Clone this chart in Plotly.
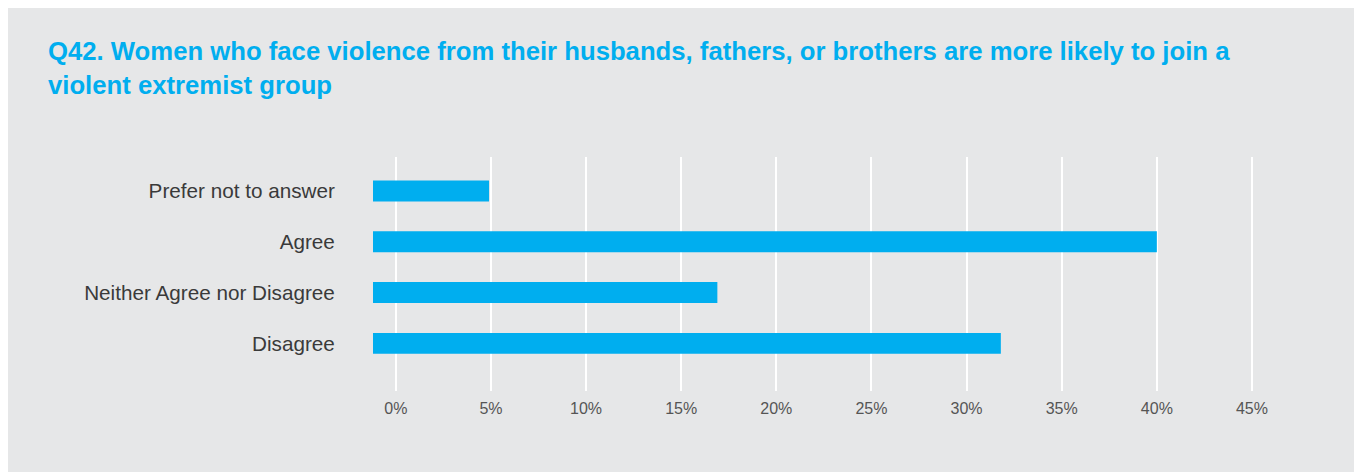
import plotly.graph_objects as go

categories = ["Disagree", "Neither Agree nor Disagree", "Agree", "Prefer not to answer"]
values = [31.8, 16.9, 40.0, 4.9]
tick_values = [0, 5, 10, 15, 20, 25, 30, 35, 40, 45]
tick_labels = [f"{v}%" for v in tick_values]
title_lines = [
    "Q42. Women who face violence from their husbands, fathers, or brothers are more likely to join a",
    "violent extremist group",
]

# page has an 8px body margin, so figure pixel coords = screenshot coords - 8
OFF = 8
W, H = 1362, 472
L = 373 - OFF
T = 157 - OFF
R = W - (1271 - OFF)
B = H - (391 - OFF)
X_MIN, X_MAX = -1.2, 46.0
BAR_COLOR = "#00aeef"
BG = "#e6e7e8"
FONT = "Liberation Sans, Arial, Helvetica, sans-serif"

pw = W - L - R
ph = H - T - B


def px_x(px):
    return (px - OFF - L) / pw


def px_y(py):
    return (H - B - (py - OFF)) / ph


fig = go.Figure()
fig.add_trace(go.Bar(
    y=categories,
    x=[v - X_MIN for v in values],
    base=X_MIN,
    orientation="h",
    marker=dict(color=BAR_COLOR, line=dict(width=0)),
    width=0.41,
    hovertemplate="%{y}: %{customdata}%<extra></extra>",
    customdata=values,
))

annotations = []
for line, ypx in zip(title_lines, [51, 84.5]):
    annotations.append(dict(
        text=line, xref="paper", yref="paper",
        x=px_x(46), y=px_y(ypx), xanchor="left", yanchor="middle",
        showarrow=False,
        font=dict(family=FONT, size=25.7, color=BAR_COLOR, weight="bold"),
    ))

fig.update_layout(
    width=W, height=H,
    margin=dict(l=L, r=R, t=T, b=B, pad=0),
    paper_bgcolor=BG, plot_bgcolor=BG,
    showlegend=False,
    annotations=annotations,
    xaxis=dict(
        range=[X_MIN, X_MAX],
        tickvals=tick_values, ticktext=tick_labels,
        showgrid=True, gridcolor="white", gridwidth=2,
        zeroline=False, showline=False,
        ticks="outside", ticklen=3, tickcolor="rgba(0,0,0,0)",
        tickfont=dict(family=FONT, size=16, color="#555555"),
        fixedrange=True,
    ),
    yaxis=dict(
        range=[-0.94, 3.67],
        showgrid=False, zeroline=False, showline=False,
        ticks="outside", ticklen=33, tickcolor="rgba(0,0,0,0)",
        tickfont=dict(family=FONT, size=20.7, color="#3a3a3a"),
        fixedrange=True,
    ),
)

fig.write_html("out.html")
